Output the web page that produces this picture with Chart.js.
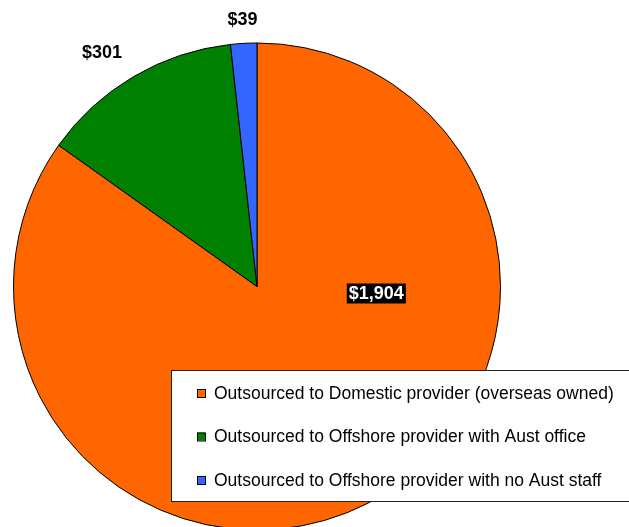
<!DOCTYPE html>
<html>
<head>
<meta charset="utf-8">
<script src="https://cdn.jsdelivr.net/npm/chart.js@4"></script>
<style>
  html, body { margin: 0; padding: 0; background: #fff; overflow: hidden; }
  #wrap { position: relative; width: 629px; height: 540px; }
</style>
</head>
<body>
<div id="wrap"><canvas id="myPieChart"></canvas></div>
<script>
const categories = [
    'Outsourced to Domestic provider (overseas owned)',
    'Outsourced to Offshore provider with Aust office',
    'Outsourced to Offshore provider with no Aust staff'
];
const values = [1904, 301, 39];
const valueLabels = ['$1,904', '$301', '$39'];
const colors = ['#FF6600', '#008000', '#3366FF'];

// value labels + boxed legend drawn on top of the pie
const labelPlugin = {
    id: 'pieLabels',
    afterDraw(chart) {
        const ctx = chart.ctx;
        const arcs = chart.getDatasetMeta(0).data;
        ctx.save();
        ctx.font = 'bold 18px "Liberation Sans", Arial, sans-serif';
        ctx.textAlign = 'center';
        ctx.textBaseline = 'middle';

        // big slice: white text on black box, right of centre
        const a0 = arcs[0];
        const x0 = a0.x + a0.outerRadius * 0.49;
        const y0 = a0.y + 7;
        const w0 = ctx.measureText(valueLabels[0]).width + 4;
        ctx.fillStyle = '#000';
        ctx.fillRect(x0 - w0 / 2, y0 - 10, w0, 20);
        ctx.fillStyle = '#fff';
        ctx.fillText(valueLabels[0], x0, y0 + 1);

        // small slices: black text outside the pie
        const gap = [0, 37, 23];
        const turn = [0, -0.055, 0];
        ctx.fillStyle = '#000';
        for (let i = 1; i < arcs.length; i++) {
            const a = arcs[i];
            const mid = (a.startAngle + a.endAngle) / 2 + turn[i];
            const r = a.outerRadius + gap[i];
            ctx.fillText(valueLabels[i], a.x + Math.cos(mid) * r, a.y + Math.sin(mid) * r);
        }

        // legend
        const lx = 171, ly = 370, lw = 480, lh = 131;
        ctx.fillStyle = '#fff';
        ctx.fillRect(lx, ly, lw, lh);
        ctx.strokeStyle = '#222';
        ctx.lineWidth = 1;
        ctx.strokeRect(lx + 0.5, ly + 0.5, lw, lh);
        ctx.font = '17.5px "Liberation Sans", Arial, sans-serif';
        ctx.textAlign = 'left';
        categories.forEach((c, i) => {
            const ry = 393 + i * 43.5;
            ctx.fillStyle = colors[i];
            ctx.fillRect(197, ry - 4, 8, 8);
            ctx.strokeStyle = '#000';
            ctx.strokeRect(197.5, ry - 3.5, 8, 8);
            ctx.fillStyle = '#000';
            ctx.fillText(c, 214, ry + 1);
        });
        ctx.restore();
    }
};

const data1 = {
    labels: categories,
    datasets: [
        {
            data: values,
            backgroundColor: colors,
            borderColor: '#000',
            borderWidth: 1,
            hoverOffset: 0,
        },
    ],
};

const config = {
    type: 'pie',
    data: data1,
    options: {
        responsive: true,
        maintainAspectRatio: false,
        animation: false,
        layout: {
            padding: { left: 13, right: 128, top: 42, bottom: 9 }
        },
        plugins: {
            legend: { display: false },
            tooltip: { enabled: false },
        },
    },
    plugins: [labelPlugin],
};

var ctx = document.getElementById('myPieChart').getContext('2d');
var myPieChart = new Chart(ctx, config);
</script>
</body>
</html>
